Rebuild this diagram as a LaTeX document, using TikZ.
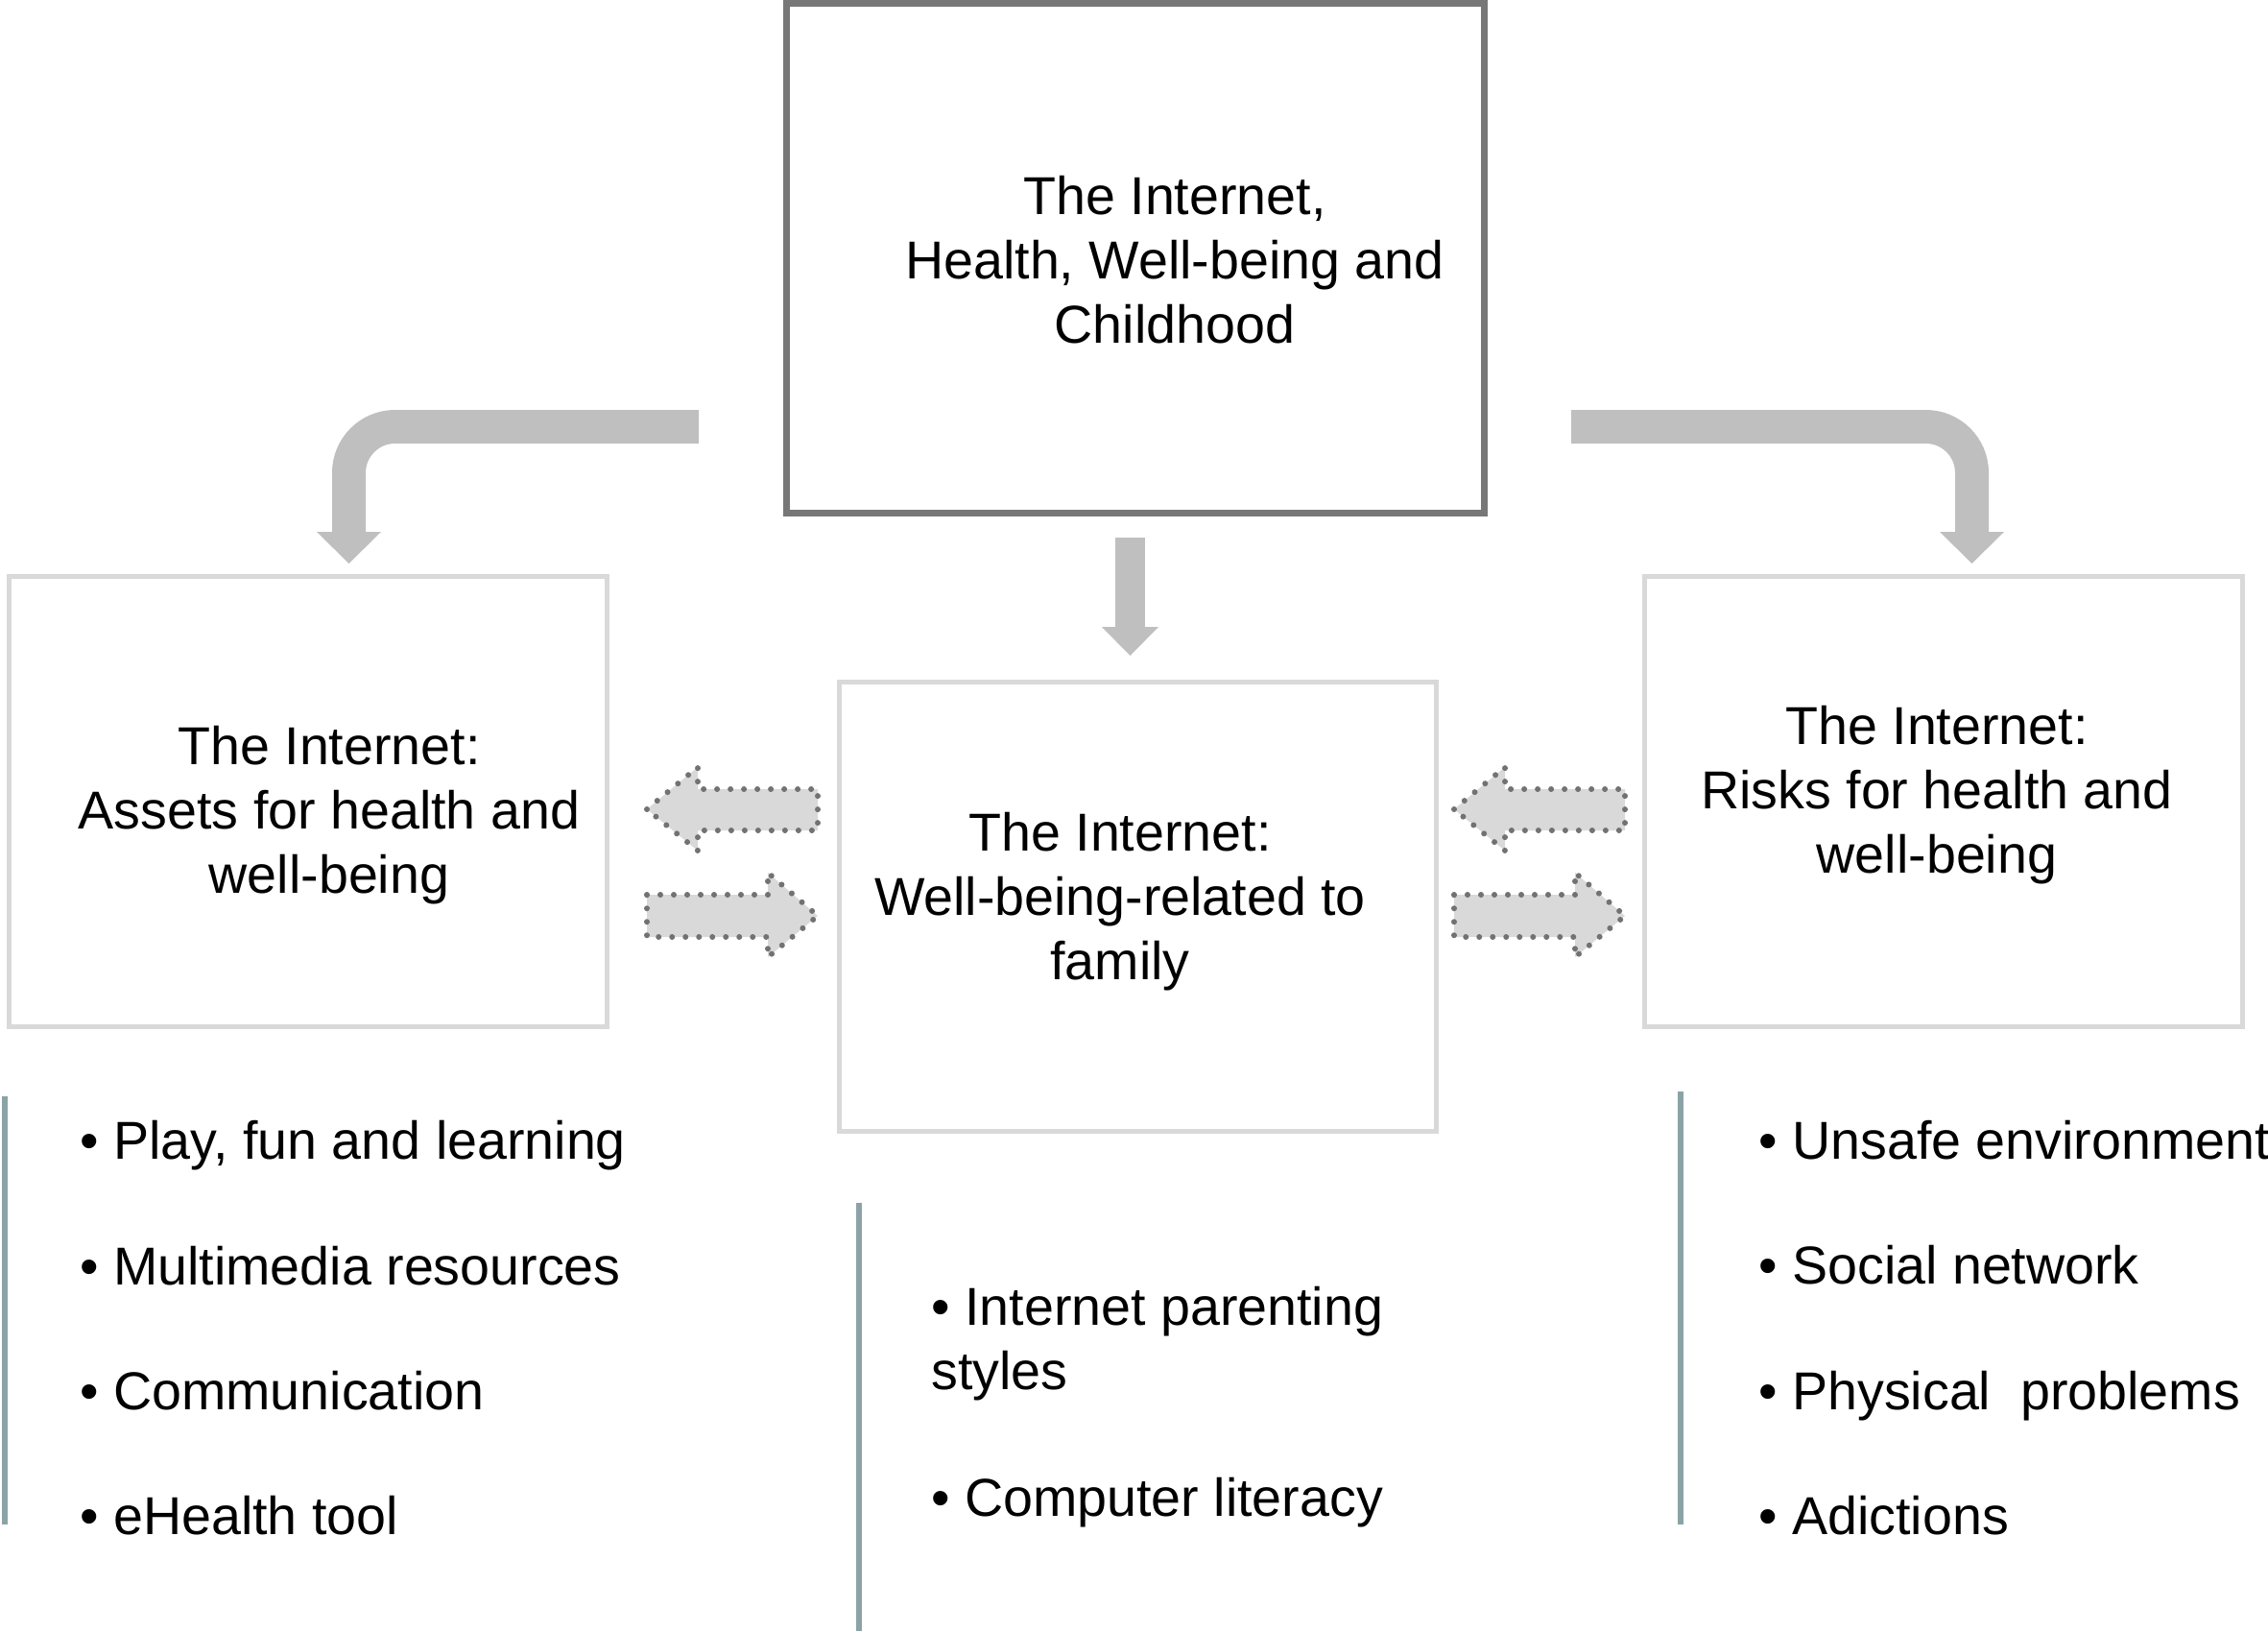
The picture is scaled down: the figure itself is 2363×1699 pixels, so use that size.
\documentclass[tikz,border=0pt]{standalone}
\usepackage{fontspec}
\setmainfont{Liberation Sans}
\definecolor{topc}{HTML}{777777}
\definecolor{boxc}{HTML}{D9D9D9}
\definecolor{arrc}{HTML}{BFBFBF}
\definecolor{dotc}{HTML}{727272}
\definecolor{dotf}{HTML}{D9D9D9}
\definecolor{vlc}{HTML}{8BA3A6}
\begin{document}
\begin{tikzpicture}[x=0.5pt,y=-0.5pt,
  txt/.style={font=\fontsize{27.8}{33.5}\selectfont, inner sep=0pt, anchor=base},
  bul/.style={font=\fontsize{27.8}{33.5}\selectfont, inner sep=0pt, anchor=base west},
  topbox/.style={draw=topc, line width=3.5pt, inner sep=0pt, minimum width=363.25pt, minimum height=265.25pt},
  lightbox/.style={draw=boxc, line width=2.5pt, inner sep=0pt, minimum width=311.5pt, minimum height=234.5pt},
  bigarrow/.style={draw=arrc, line width=17.5pt, rounded corners=24pt},
  bighead/.style={fill=arrc, draw=none},
  dotarrow/.style={draw=dotc, fill=dotf, line width=3pt, dash pattern=on 0pt off 7pt, line cap=round, line join=round},
  vline/.style={draw=vlc, line width=3pt},
  pics/dotleft/.style={code={\draw[dotarrow] (0,0) -- (53,-44) -- (53,-21) -- (178,-21) -- (178,22) -- (53,22) -- (53,43) -- cycle;}},
  pics/dotright/.style={code={\draw[dotarrow] (0,-22) -- (126,-22) -- (126,-45) -- (178,0) -- (126,43) -- (126,22) -- (0,22) -- cycle;}}
]
\useasboundingbox (0,0) rectangle (2363,1699);

% boxes
\node[topbox] (top) at (1183,269) {};
\node[lightbox] (assets) at (320.5,834.5) {};
\node[lightbox, minimum width=311pt, minimum height=234pt] (family) at (1185,944) {};
\node[lightbox, minimum width=311.75pt] (risks) at (2025,834.5) {};

% box texts
\node[txt] (toptxt) at (1224,223) {\begin{tabular}[t]{@{}c@{}}The Internet,\\Health, Well-being and\\Childhood\end{tabular}};
\node[txt] (assetstxt) at (343,796) {\begin{tabular}[t]{@{}c@{}}The Internet:\\Assets for health and\\well-being\end{tabular}};
\node[txt] (familytxt) at (1167,886) {\begin{tabular}[t]{@{}c@{}}The Internet:\\Well-being-related to\\family\end{tabular}};
\node[txt] (riskstxt) at (2018,775) {\begin{tabular}[t]{@{}c@{}}The Internet:\\Risks for health and\\well-being\end{tabular}};

% big grey arrows
\coordinate (la0) at (728,444.5);
\coordinate (la1) at (363.5,444.5);
\coordinate (la2) at (363.5,554);
\draw[bigarrow] (la0) -- (la1) -- (la2);
\fill[bighead] (330,554) -- (397,554) -- (363.5,587) -- cycle;

\coordinate (ra0) at (1637,444.5);
\coordinate (ra1) at (2054.5,444.5);
\coordinate (ra2) at (2054.5,554);
\draw[bigarrow] (ra0) -- (ra1) -- (ra2);
\fill[bighead] (2021,554) -- (2088,554) -- (2054.5,587) -- cycle;

\coordinate (ca0) at (1177.5,560);
\coordinate (ca1) at (1177.5,653);
\draw[draw=arrc, line width=15.5pt] (ca0) -- (ca1);
\fill[bighead] (1148,653) -- (1207,653) -- (1177.5,683) -- cycle;

% dotted double arrows
\pic at (674,843) {dotleft};
\pic at (674,954) {dotright};
\pic at (1515,843) {dotleft};
\pic at (1515,954) {dotright};

% vertical bars
\coordinate (v1a) at (5,1142);
\coordinate (v1b) at (5,1588);
\draw[vline] (v1a) -- (v1b);
\coordinate (v2a) at (895,1253);
\coordinate (v2b) at (895,1699);
\draw[vline] (v2a) -- (v2b);
\coordinate (v3a) at (1750.5,1137);
\coordinate (v3b) at (1750.5,1588);
\draw[vline] (v3a) -- (v3b);

% bullet lists
\node[bul] (a1) at (83,1207) {• Play, fun and learning};
\node[bul] (a2) at (83,1338) {• Multimedia resources};
\node[bul] (a3) at (83,1468) {• Communication};
\node[bul] (a4) at (83,1598) {• eHealth tool};

\node[bul] (f1) at (970,1380) {\begin{tabular}[t]{@{}l@{}}• Internet parenting\\styles\end{tabular}};
\node[bul] (f2) at (970,1579) {• Computer literacy};

\node[bul] (r1) at (1832,1207) {• Unsafe environment};
\node[bul] (r2) at (1832,1337) {• Social network};
\node[bul] (r3) at (1832,1468) {• Physical\ \ problems};
\node[bul] (r4) at (1832,1598) {• Adictions};
\end{tikzpicture}
\end{document}
